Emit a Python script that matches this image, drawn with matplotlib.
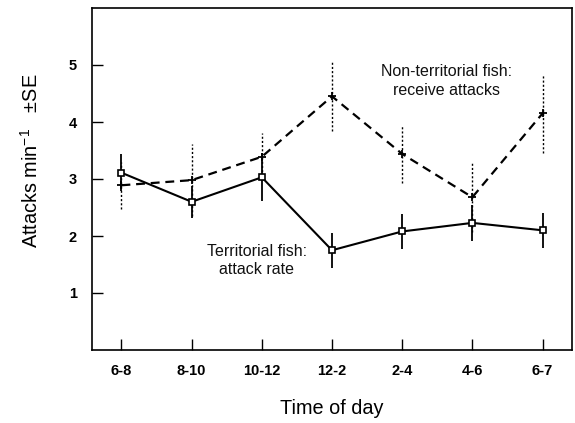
import matplotlib
matplotlib.use("Agg")
import matplotlib.pyplot as plt
import numpy as np

plt.rcParams['font.family'] = ['Liberation Sans', 'DejaVu Sans']
plt.rcParams['mathtext.fontset'] = 'custom'
plt.rcParams['mathtext.rm'] = 'Liberation Sans'
plt.rcParams['mathtext.it'] = 'Liberation Sans'
plt.rcParams['mathtext.bf'] = 'Liberation Sans:bold'

times = ["6-8", "8-10", "10-12", "12-2", "2-4", "4-6", "6-7"]
territorial = [3.11, 2.60, 3.03, 1.75, 2.08, 2.23, 2.10]
territorial_se = [0.32, 0.28, 0.42, 0.31, 0.31, 0.31, 0.31]
nonterritorial = [2.89, 2.98, 3.39, 4.45, 3.44, 2.68, 4.15]
nonterritorial_se = [0.41, 0.63, 0.41, 0.61, 0.51, 0.61, 0.70]
yticks = [1, 2, 3, 4, 5]

fig = plt.figure(figsize=(5.75, 4.23), dpi=100)
ax = fig.add_axes([92/575, 1-350/423, 480/575, 342/423])
x = np.arange(len(times))

eb1 = ax.errorbar(x, nonterritorial, yerr=nonterritorial_se, fmt='none',
                  ecolor='black', elinewidth=1.0, capsize=0)
eb1[2][0].set_linestyle((0, (1.5, 1.5)))
ax.plot(x, nonterritorial, color='black', lw=1.6, ls=(0, (4, 2.6)),
        marker='+', ms=6, mew=1.3)

ax.errorbar(x, territorial, yerr=territorial_se, fmt='none',
            ecolor='black', elinewidth=1.3, capsize=0)
ax.plot(x, territorial, color='black', lw=1.5, marker='s', ms=5,
        mfc='white', mec='black', mew=1.2)

ax.text(4.63, 4.72, "Non-territorial fish:\nreceive attacks", ha='center',
        va='center', fontsize=11.5, linespacing=1.3, color='#111111')
ax.text(1.93, 1.57, "Territorial fish:\nattack rate", ha='center',
        va='center', fontsize=11.5, linespacing=1.3, color='#111111')

ax.set_xlim(-0.42, 6.42)
ax.set_ylim(0, 6)
ax.set_xticks(x)
ax.set_xticklabels(times)
ax.set_yticks(yticks)
ax.tick_params(direction='in', length=8, width=1, labelsize=10.5, pad=10)
ax.tick_params(axis='y', pad=11)
for lab in ax.get_xticklabels() + ax.get_yticklabels():
    lab.set_fontweight('bold')
for s in ax.spines.values():
    s.set_linewidth(1.2)

ax.set_xlabel("Time of day", fontsize=14.3, labelpad=15)
ax.set_ylabel("Attacks min$^{\\mathregular{-1}}$   \u00b1SE", fontsize=14.3)
ax.yaxis.set_label_coords(-0.105, 0.553)

fig.savefig("out.png", dpi=100)
